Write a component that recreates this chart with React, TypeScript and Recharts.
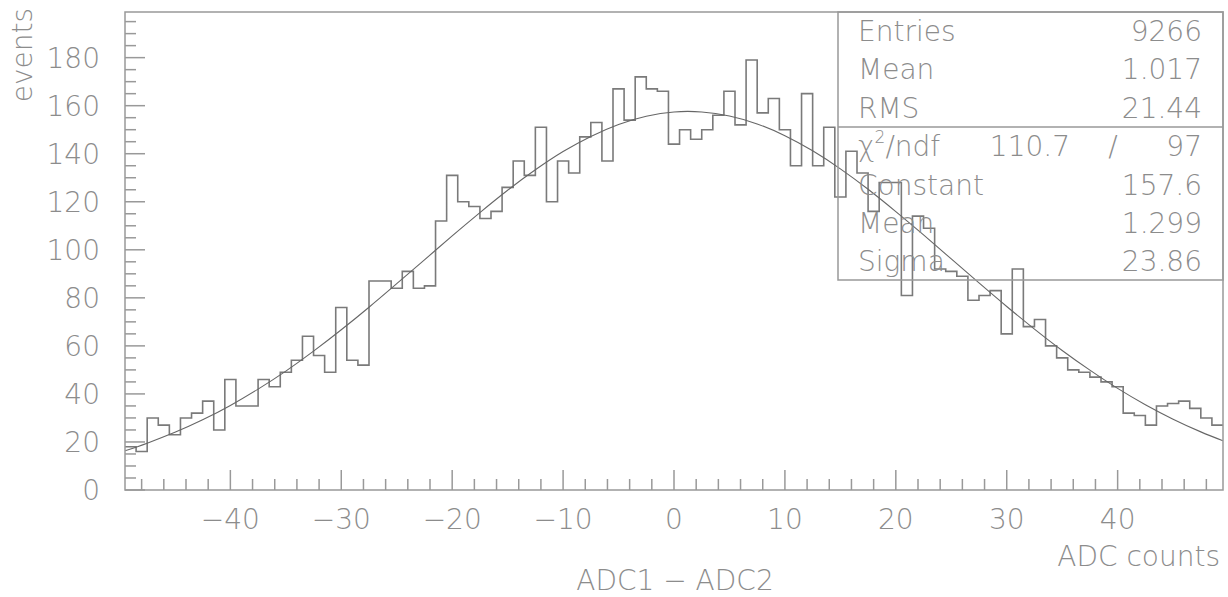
import { ComposedChart, Line, XAxis, YAxis } from "recharts"

// histogram: 99 bins of width 1, first bin starts at -49.5
const binLow = -49.5
const binWidth = 1
const counts = [
  18, 16, 30, 27, 23, 30, 32, 37, 25, 46,
  35, 35, 46, 43, 49, 54, 64, 56, 49, 76,
  54, 52, 87, 87, 84, 91, 84, 85, 112, 131,
  120, 118, 113, 116, 126, 137, 131, 151, 120, 137,
  132, 147, 153, 137, 167, 154, 172, 167, 166, 144,
  150, 146, 150, 156, 166, 152, 179, 157, 163, 150,
  135, 165, 135, 151, 122, 141, 132, 116, 128, 128,
  81, 114, 109, 92, 91, 89, 79, 81, 83, 65,
  92, 68, 71, 60, 55, 50, 49, 47, 45, 43,
  32, 31, 27, 35, 36, 37, 34, 30, 27,
]

// gaussian fit curve, sampled
const fitX = [
  -49.5, -47.5, -45, -42.5, -40, -37.5, -35, -32.5, -30, -27.5, -25, -22.5, -20, -17.5,
  -15, -12.5, -10, -7.5, -5, -2.5, 0, 2.5, 5, 7.5, 10, 12.5, 15, 17.5, 20, 22.5, 25,
  27.5, 30, 32.5, 35, 37.5, 40, 42.5, 45, 47.5, 49.5,
]
const fitY = [
  16.3, 19.5, 24.0, 29.2, 35.2, 42.0, 49.5, 57.8, 66.7, 76.1, 85.9, 95.8, 105.8, 115.5,
  124.8, 133.3, 140.9, 147.2, 152.2, 155.6, 157.4, 157.4, 155.7, 152.4, 147.5, 141.2, 133.7,
  125.2, 115.9, 106.2, 96.2, 86.2, 76.4, 67.0, 58.1, 49.9, 42.3, 35.5, 29.5, 24.2, 20.5,
]

const xTicks = [
  -48, -46, -44, -42, -40, -38, -36, -34, -32, -30, -28, -26, -24, -22, -20, -18, -16, -14,
  -12, -10, -8, -6, -4, -2, 0, 2, 4, 6, 8, 10, 12, 14, 16, 18, 20, 22, 24, 26, 28, 30, 32,
  34, 36, 38, 40, 42, 44, 46, 48,
]
const yTicks = [
  0, 5, 10, 15, 20, 25, 30, 35, 40, 45, 50, 55, 60, 65, 70, 75, 80, 85, 90, 95, 100, 105,
  110, 115, 120, 125, 130, 135, 140, 145, 150, 155, 160, 165, 170, 175, 180, 185, 190, 195,
]

const statLabels = ["Entries", "Mean", "RMS"]
const statValues = ["9266", "1.017", "21.44"]
const fitLabels = ["Constant", "Mean", "Sigma"]
const fitValues = ["157.6", "1.299", "23.86"]
const chi2 = "110.7"
const ndf = "97"

const font = "'DejaVu Sans', sans-serif"
const textColor = "#8c8c8c"
const frameColor = "#999"

const histData = counts
  .map((c, i) => ({ x: binLow + i * binWidth, y: c }))
  .concat([{ x: binLow + counts.length * binWidth, y: counts[counts.length - 1] }])
const fitData = fitX.map((x, i) => ({ x, y: fitY[i] }))

const fmt = (v: number) => (v < 0 ? `\u2212${-v}` : `${v}`)

function XTick(props: any) {
  const { x, y, payload } = props
  const major = payload.value % 10 === 0
  return (
    <g>
      <line x1={x} x2={x} y1={y} y2={y - (major ? 20 : 11)} stroke={frameColor} strokeWidth={1.5} />
      {major && (
        <text x={x} y={y + 39} textAnchor="middle" fill={textColor} fontSize={28} fontWeight={200} fontFamily={font}>
          {fmt(payload.value)}
        </text>
      )}
    </g>
  )
}

function YTick(props: any) {
  const { x, y, payload } = props
  const major = payload.value % 20 === 0
  return (
    <g>
      <line x1={x} x2={x + (major ? 20 : 11)} y1={y} y2={y} stroke={frameColor} strokeWidth={1.5} />
      {major && (
        <text x={x - 25} y={y + 10} textAnchor="end" fill={textColor} fontSize={28} fontWeight={200} fontFamily={font}>
          {payload.value}
        </text>
      )}
    </g>
  )
}

export default function App() {
  const txt = { fill: textColor, fontSize: 28, fontWeight: 200, fontFamily: font }
  return (
    <div style={{ position: "absolute", left: 0, top: 0, width: 1228, height: 597, background: "#fff" }}>
      <ComposedChart width={1228} height={597} margin={{ top: 12, right: 5, bottom: 0, left: 0 }}>
        <XAxis
          dataKey="x"
          type="number"
          domain={[-49.5, 49.5]}
          ticks={xTicks}
          interval={0}
          height={107}
          tickSize={0}
          tickMargin={0}
          axisLine={false}
          tick={<XTick />}
          allowDataOverflow
        />
        <YAxis
          type="number"
          domain={[0, 199]}
          ticks={yTicks}
          interval={0}
          width={125}
          tickSize={0}
          tickMargin={0}
          axisLine={false}
          tick={<YTick />}
          allowDataOverflow
        />
        <Line
          data={histData}
          dataKey="y"
          type="stepAfter"
          stroke="#7a7a7a"
          strokeWidth={1.6}
          dot={false}
          activeDot={false}
          isAnimationActive={false}
        />
        <Line
          data={fitData}
          dataKey="y"
          type="natural"
          stroke="#666"
          strokeWidth={1.1}
          dot={false}
          activeDot={false}
          isAnimationActive={false}
        />
      </ComposedChart>
      <svg
        width={1228}
        height={597}
        style={{ position: "absolute", left: 0, top: 0, pointerEvents: "none" }}
      >
        <rect x={125} y={12} width={1098} height={478} fill="none" stroke={frameColor} strokeWidth={1.5} />
        {/* stats box */}
        <rect x={838} y={12} width={385} height={268} fill="none" stroke={frameColor} strokeWidth={1.5} />
        <line x1={838} x2={1223} y1={127} y2={127} stroke={frameColor} strokeWidth={1.5} />
        {statLabels.map((s, i) => (
          <g key={s}>
            <text x={858} y={41 + i * 38.3} {...txt}>{s}</text>
            <text x={1202} y={41 + i * 38.3} textAnchor="end" {...txt}>{statValues[i]}</text>
          </g>
        ))}
        <text x={858} y={156} {...txt}>
          χ<tspan fontSize={17} dy={-13}>2</tspan>
          <tspan dy={13}>/ndf</tspan>
        </text>
        <text x={1070} y={156} textAnchor="end" {...txt}>{chi2}</text>
        <text x={1113} y={156} textAnchor="middle" {...txt}>/</text>
        <text x={1202} y={156} textAnchor="end" {...txt}>{ndf}</text>
        {fitLabels.map((s, i) => (
          <g key={s + i}>
            <text x={858} y={194.5 + i * 38.3} {...txt}>{s}</text>
            <text x={1202} y={194.5 + i * 38.3} textAnchor="end" {...txt}>{fitValues[i]}</text>
          </g>
        ))}
        {/* axis titles */}
        <text x={1220} y={566} textAnchor="end" {...txt}>ADC counts</text>
        <text x={675} y={590} textAnchor="middle" {...txt}>ADC1 − ADC2</text>
        <text transform="translate(32, 8) rotate(-90)" textAnchor="end" {...txt}>events</text>
      </svg>
    </div>
  )
}
